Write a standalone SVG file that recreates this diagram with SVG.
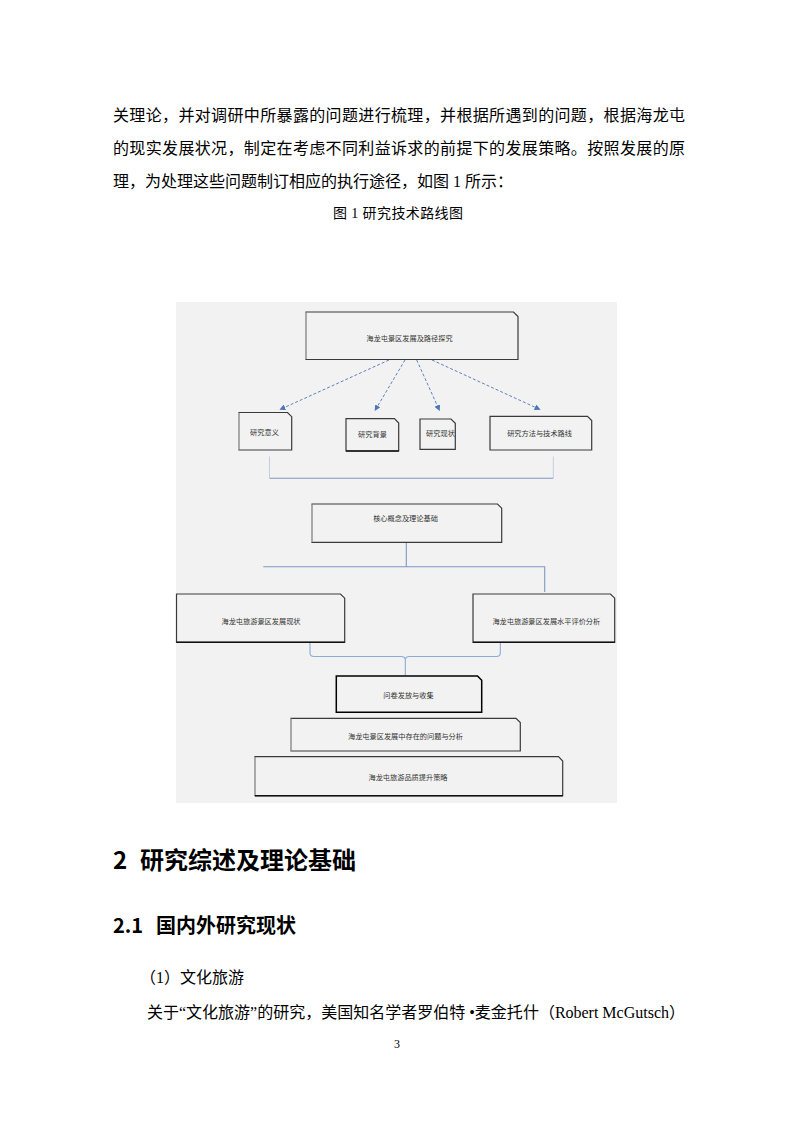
<svg xmlns="http://www.w3.org/2000/svg" width="793" height="1122" viewBox="0 0 793 1122">
<style>
.body{font-family:"Liberation Serif","Noto Sans CJK SC",serif;font-size:16px;fill:#000}
.cap{font-family:"Liberation Serif","Noto Sans CJK SC",serif;font-size:14px;fill:#000}
.h1{font-family:"Noto Sans CJK SC","Liberation Sans",sans-serif;font-weight:bold;font-size:24px;fill:#000}
.h2{font-family:"Noto Sans CJK SC","Liberation Sans",sans-serif;font-weight:bold;font-size:20px;fill:#000}
.box{fill:#f2f2f2;stroke:#3a3a3a;stroke-width:1.2}
.boxk{fill:#f2f2f2;stroke:#000;stroke-width:1.5}
.ledge{stroke:#a9a9a9;stroke-width:2;fill:none}
.bedge{stroke:#111;stroke-width:1.6;fill:none}
.lbl{font-family:"Noto Sans CJK SC","Liberation Sans",sans-serif;font-size:7.2px;fill:#333;text-anchor:middle}
.arr{stroke:#4f74b8;stroke-width:0.9;stroke-dasharray:3 2;fill:none}
.ln{stroke:#7f98c4;stroke-width:1.1;fill:none}
.lnl{stroke:#c5cde0;stroke-width:1;fill:none}
.br{stroke:#8faad6;stroke-width:1.1;fill:none}
</style>
<defs>
<marker id="ah" viewBox="0 0 10 10" refX="9" refY="5" markerWidth="6" markerHeight="6" markerUnits="userSpaceOnUse" orient="auto">
<path d="M0,0 L10,5 L0,10 Z" fill="#4f74b8"/>
</marker>
</defs>
<rect width="793" height="1122" fill="#fff"/>

<g id="page-text">
<text class="body" x="113" y="121" textLength="572" lengthAdjust="spacing">关理论，并对调研中所暴露的问题进行梳理，并根据所遇到的问题，根据海龙屯</text>
<text class="body" x="113" y="154" textLength="572" lengthAdjust="spacing">的现实发展状况，制定在考虑不同利益诉求的前提下的发展策略。按照发展的原</text>
<text class="body" x="113" y="187">理，为处理这些问题制订相应的执行途径，如图 1 所示：</text>
<text class="cap" x="333" y="218" textLength="130" lengthAdjust="spacing">图 1  研究技术路线图</text>
<text class="h1" y="869"><tspan x="113">2</tspan><tspan x="140">研究综述及理论基础</tspan></text>
<text class="h2" y="933"><tspan x="113">2.1</tspan><tspan x="156">国内外研究现状</tspan></text>
<text class="body" x="140" y="983">（1）文化旅游</text>
<text class="body" x="147" y="1018" textLength="538" lengthAdjust="spacing">关于“文化旅游”的研究，美国知名学者罗伯特 •麦金托什（Robert McGutsch）</text>
<text class="body" x="397" y="1048" style="font-size:12px" text-anchor="middle">3</text>
</g>

<rect id="diagram-bg" x="176" y="302" width="441" height="501" fill="#f2f2f2"/>

<g id="connectors">
<line class="arr" x1="389" y1="360" x2="280" y2="409.5" marker-end="url(#ah)"/>
<line class="arr" x1="405" y1="360" x2="375" y2="410.5" marker-end="url(#ah)"/>
<line class="arr" x1="416.7" y1="360" x2="439.5" y2="410.5" marker-end="url(#ah)"/>
<line class="arr" x1="432" y1="360" x2="540" y2="409.5" marker-end="url(#ah)"/>
<path class="lnl" d="M269.5 456.5 V478 M553.3 456.5 V478"/>
<path class="ln" d="M269.5 478.3 H553.3"/>
<path class="ln" d="M406.3 542.5 V566.7 M263.3 566.7 H544.7 V592"/>
<path class="br" d="M310 642.5 V653 Q310 656.5 314 656.5 H401 Q405.3 656.5 405.3 660 Q405.3 656.5 409.5 656.5 H496.5 Q500.3 656.5 500.3 653 V642.5 M405.3 660 V675.5"/>
</g>

<g id="n-root">
<path class="box" d="M306 312 H513.5 L518 316.5 V359.5 H306 Z"/>
<path class="ledge" d="M306 312.5 V359"/>
<text class="lbl" x="409.5" y="340.5">海龙屯景区发展及路径探究</text>
</g>
<g id="n-yiyi">
<path class="box" d="M239 412.5 H287.5 L291.7 416.7 V450 H239 Z"/>
<path class="ledge" d="M239 413 V449.5"/>
<text class="lbl" x="264.5" y="434.5">研究意义</text>
</g>
<g id="n-beijing">
<path class="box" d="M346 418.7 H394.5 L398.7 423 V451 H346 Z"/>
<path class="bedge" d="M346 451 H398.7"/>
<text class="lbl" x="372.5" y="437">研究背景</text>
</g>
<g id="n-xianzhuang">
<path class="box" d="M420 419 H451 L455.3 423.3 V449.3 H420 Z"/>
<text class="lbl" x="440.5" y="436">研究现状</text>
</g>
<g id="n-fangfa">
<path class="box" d="M490 416.3 H587.5 L591.7 420.5 V450 H490 Z"/>
<text class="lbl" x="539.5" y="436">研究方法与技术路线</text>
</g>
<g id="n-hexin">
<path class="box" d="M312 504 H497.5 L501.7 508.2 V542.3 H312 Z"/>
<path class="ledge" d="M312 504.5 V542"/>
<text class="lbl" x="405.5" y="521">核心概念及理论基础</text>
</g>
<g id="n-xianzhuang2">
<path class="box" d="M176.5 594 H340.5 L344.7 598.2 V642.3 H176.5 Z"/>
<path class="bedge" d="M176.5 642.3 H344.7"/>
<text class="lbl" x="261" y="623.5">海龙屯旅游景区发展现状</text>
</g>
<g id="n-pingjia">
<path class="box" d="M473 594 H610.5 L614.7 598.2 V642.3 H473 Z"/>
<path class="bedge" d="M473 642.3 H614.7"/>
<text class="lbl" x="546.3" y="623.5">海龙屯旅游景区发展水平评价分析</text>
</g>
<g id="n-wenjuan">
<path class="boxk" d="M336.3 676 H477.5 L481.7 680.2 V712.3 H336.3 Z"/>
<text class="lbl" x="408.5" y="697.7">问卷发放与收集</text>
</g>
<g id="n-wenti">
<path class="box" d="M291 718.3 H516 L520.3 722.5 V751 H291 Z"/>
<path class="ledge" d="M291 718.8 V750.5"/>
<text class="lbl" x="405.5" y="739.3">海龙屯景区发展中存在的问题与分析</text>
</g>
<g id="n-celue">
<path class="box" d="M255 756.7 H558.5 L562.7 761 V795.7 H255 Z"/>
<path class="ledge" d="M255 757.2 V795"/>
<path class="bedge" d="M255 795.7 H562.7"/>
<text class="lbl" x="408" y="779.5">海龙屯旅游品质提升策略</text>
</g>
</svg>
